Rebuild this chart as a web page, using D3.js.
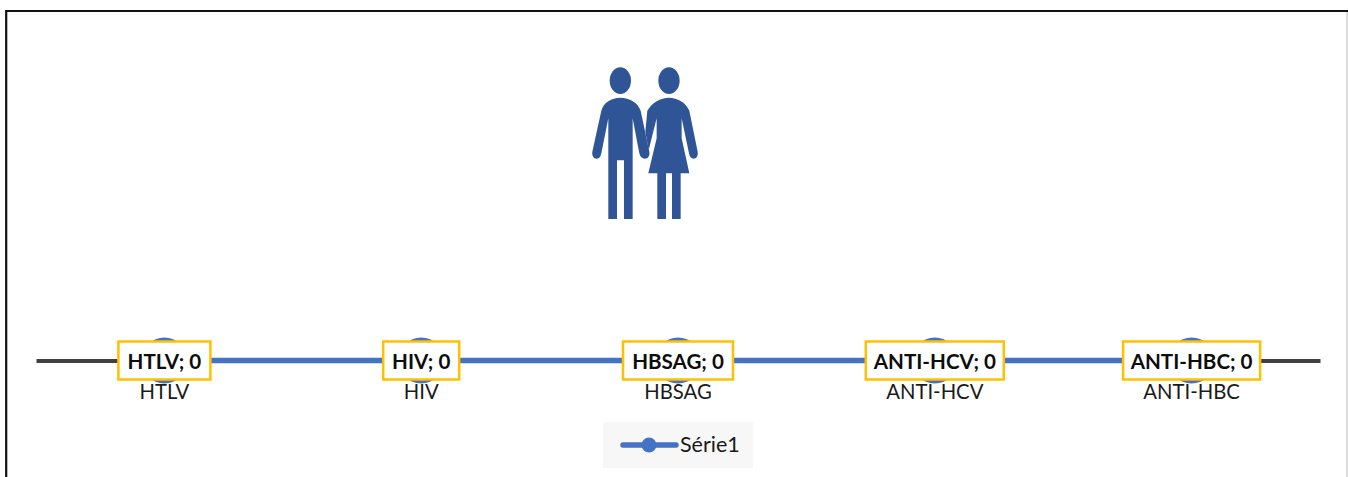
<!DOCTYPE html>
<html><head><meta charset="utf-8">
<script src="https://cdn.jsdelivr.net/npm/d3@7"></script>
<style>html,body{margin:0;padding:0;background:#fff}svg{display:block}text{font-family:Lato,"Open Sans",sans-serif}</style>
</head><body><svg id="c" width="1348" height="477"></svg>
<script>
const categories = ["HTLV","HIV","HBSAG","ANTI-HCV","ANTI-HBC"];
const values = [0,0,0,0,0];
const seriesName = "Série1";
const labelWidths = [92,76,110,138,137];

const svg = d3.select("#c");
svg.append("rect").attr("width",1348).attr("height",477).attr("fill","#fff");
svg.append("path").attr("d","M1347 11V477").attr("stroke","#d0d0d0").attr("stroke-width",1.5).attr("fill","none");
svg.append("path").attr("d","M6.2 477V11H1348").attr("stroke","#111").attr("stroke-width",2.2).attr("fill","none");

const x = d3.scaleBand().domain(categories).range([36,1320]);
const y = d3.scaleLinear().domain([0,1]).range([360.5,60]);
const cx = c => x(c)+x.bandwidth()/2;

// people icon
const icon = svg.append("g").attr("transform","translate(570,50) scale(0.3333)").attr("fill","#2F5597");
icon.append("ellipse").attr("cx",151).attr("cy",92).attr("rx",32).attr("ry",40);
icon.append("ellipse").attr("cx",297).attr("cy",92).attr("rx",32).attr("ry",40);
icon.append("path").attr("d","M151 143C125 143 100 158 94 182L67 305C65 318 72 326 80 326C88 326 92 320 94 310L115 205V507H141V331H162V507H188V205L208 310C210 320 216 326 225 326C234 326 240 318 238 305L212 182C204 158 178 143 151 143Z");
icon.append("path").attr("d","M297 143C272 143 246 158 232 182L226 245L236 300L260 205V265L235 370H262V507H288V370H306V507H332V370H358L335 265V205L357 310C359 320 363 326 371 326C379 326 385 318 383 305L358 182C348 158 322 143 297 143Z");

// axis
const axis = d3.axisBottom(x).tickSize(0).tickPadding(0);
const gAxis = svg.append("g").attr("transform",`translate(0,${y(0)})`).call(axis);
gAxis.select(".domain").attr("stroke","#404040").attr("stroke-width",4);
gAxis.selectAll("text").attr("dy",null).attr("y",38).attr("font-size",20.3).attr("fill","#1a1a1a").attr("font-family","Lato");

// series
const line = d3.line().x((d,i)=>cx(categories[i])).y(d=>y(d));
svg.append("path").datum(values).attr("d",line).attr("fill","none").attr("stroke","#4472C4").attr("stroke-width",5.5);
svg.selectAll("circle.pt").data(values).join("circle").attr("class","pt")
  .attr("cx",(d,i)=>cx(categories[i])).attr("cy",d=>y(d)).attr("r",23).attr("fill","#4472C4");

// data labels
const lab = svg.selectAll("g.lab").data(values).join("g").attr("class","lab")
  .attr("transform",(d,i)=>`translate(${cx(categories[i])},${y(d)})`);
lab.append("rect").attr("x",(d,i)=>-labelWidths[i]/2).attr("y",-19).attr("width",(d,i)=>labelWidths[i]).attr("height",38)
  .attr("fill","#fff").attr("stroke","#FFC000").attr("stroke-width",2.5);
lab.append("text").attr("text-anchor","middle").attr("y",8).attr("font-size",20.6).attr("font-weight",700).attr("fill","#0d0d0d")
  .text((d,i)=>`${categories[i]}; ${d}`);

// legend
const lg = svg.append("g");
lg.append("rect").attr("x",603).attr("y",422).attr("width",150).attr("height",46).attr("fill","#F7F7F7");
lg.append("line").attr("x1",623).attr("x2",676).attr("y1",445).attr("y2",445).attr("stroke","#4472C4").attr("stroke-width",5.5).attr("stroke-linecap","round");
lg.append("circle").attr("cx",649).attr("cy",445).attr("r",7.5).attr("fill","#4472C4");
lg.append("text").attr("x",680).attr("y",452).attr("font-size",21.5).attr("fill","#1a1a1a").text(seriesName);
</script></body></html>
